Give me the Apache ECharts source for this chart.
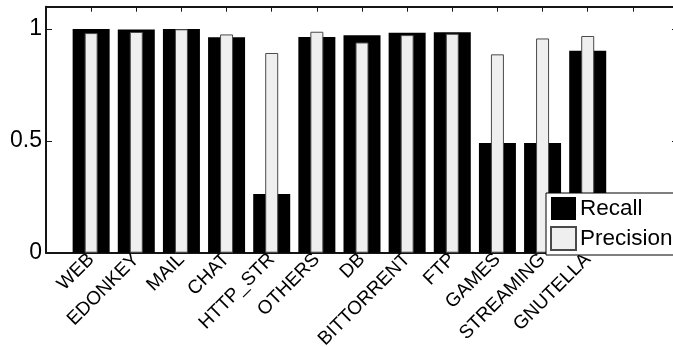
<!DOCTYPE html>
<html>
<head>
<meta charset="utf-8">
<script src="https://cdn.jsdelivr.net/npm/echarts@6/dist/echarts.min.js"></script>
<style>
  html, body { margin: 0; padding: 0; background: #fff; }
  #chart { width: 673px; height: 347px; }
</style>
</head>
<body>
<div id="chart"></div>
<script>
// Traffic classes along the x axis (positions 1..12)
const categories = ['WEB', 'EDONKEY', 'MAIL', 'CHAT', 'HTTP_STR', 'OTHERS', 'DB',
  'BITTORRENT', 'FTP', 'GAMES', 'STREAMING', 'GNUTELLA'];
// Per-class recall and precision
const recall = [1.0, 0.998, 1.0, 0.963, 0.262, 0.964, 0.972, 0.983, 0.986, 0.49, 0.49, 0.903];
const precision = [0.982, 0.987, 0.999, 0.976, 0.893, 0.988, 0.940, 0.973, 0.979, 0.887, 0.958, 0.969];
// Axis tick values
const xTicks = [1, 2, 3, 4, 5, 6, 7, 8, 9, 10, 11, 12, 13];
const yTicks = [0, 0.5, 1];

const FONT = '"Liberation Sans", Arial, Helvetica, sans-serif';
const AXIS_COLOR = '#151515';

const toPoints = vals => vals.map((v, i) => [i + 1, v]);

function xAxisDef(pos, showLabels) {
  return {
    type: 'value', position: pos, min: 0, max: 14,
    axisLine: { show: true, onZero: false, lineStyle: { color: AXIS_COLOR, width: 2 } },
    axisTick: { show: true, inside: true, length: 5, customValues: xTicks,
      lineStyle: { color: AXIS_COLOR, width: 1 } },
    axisLabel: showLabels ? {
      show: true, customValues: xTicks.slice(0, categories.length),
      rotate: 45, margin: 4, fontSize: 19, fontFamily: FONT, color: '#000',
      formatter: v => categories[Math.round(v) - 1] || ''
    } : { show: false },
    splitLine: { show: false }
  };
}

function yAxisDef(pos, showLabels) {
  return {
    type: 'value', position: pos, min: 0, max: 1.1,
    axisLine: { show: true, onZero: false, lineStyle: { color: AXIS_COLOR, width: 2 } },
    axisTick: { show: true, inside: true, length: 6, customValues: yTicks,
      lineStyle: { color: AXIS_COLOR, width: 1 } },
    axisLabel: showLabels ? {
      show: true, customValues: yTicks, margin: 4, fontSize: 23,
      fontFamily: FONT, color: '#000',
      formatter: v => String(v)
    } : { show: false },
    splitLine: { show: false }
  };
}

const chart = echarts.init(document.getElementById('chart'), null, { renderer: 'canvas' });
chart.setOption({
  animation: false,
  backgroundColor: '#fff',
  grid: { left: 46, top: 6.7, width: 632, height: 246, containLabel: false,
    outerBoundsMode: 'none' },
  xAxis: [xAxisDef('bottom', true), xAxisDef('top', false)],
  yAxis: [yAxisDef('left', true), yAxisDef('right', false)],
  legend: {
    orient: 'vertical', left: 546, top: 193, z: 10,
    backgroundColor: '#fff', borderColor: '#000', borderWidth: 1,
    padding: [4, 60, 4, 4], itemGap: 6, itemWidth: 25, itemHeight: 23,
    icon: 'rect',
    textStyle: { fontSize: 22.5, fontFamily: FONT, color: '#000', padding: [0, 0, 0, -1] },
    data: ['Recall', 'Precision']
  },
  series: [
    {
      name: 'Recall', type: 'bar', xAxisIndex: 0, yAxisIndex: 0,
      barWidth: 37, data: toPoints(recall),
      itemStyle: { color: '#000' }, z: 2
    },
    {
      name: 'Precision', type: 'bar', xAxisIndex: 1, yAxisIndex: 0,
      barWidth: 13, data: toPoints(precision),
      itemStyle: { color: '#efefef', borderColor: '#4a4a4a', borderWidth: 1 }, z: 3
    }
  ]
});
</script>
</body>
</html>
